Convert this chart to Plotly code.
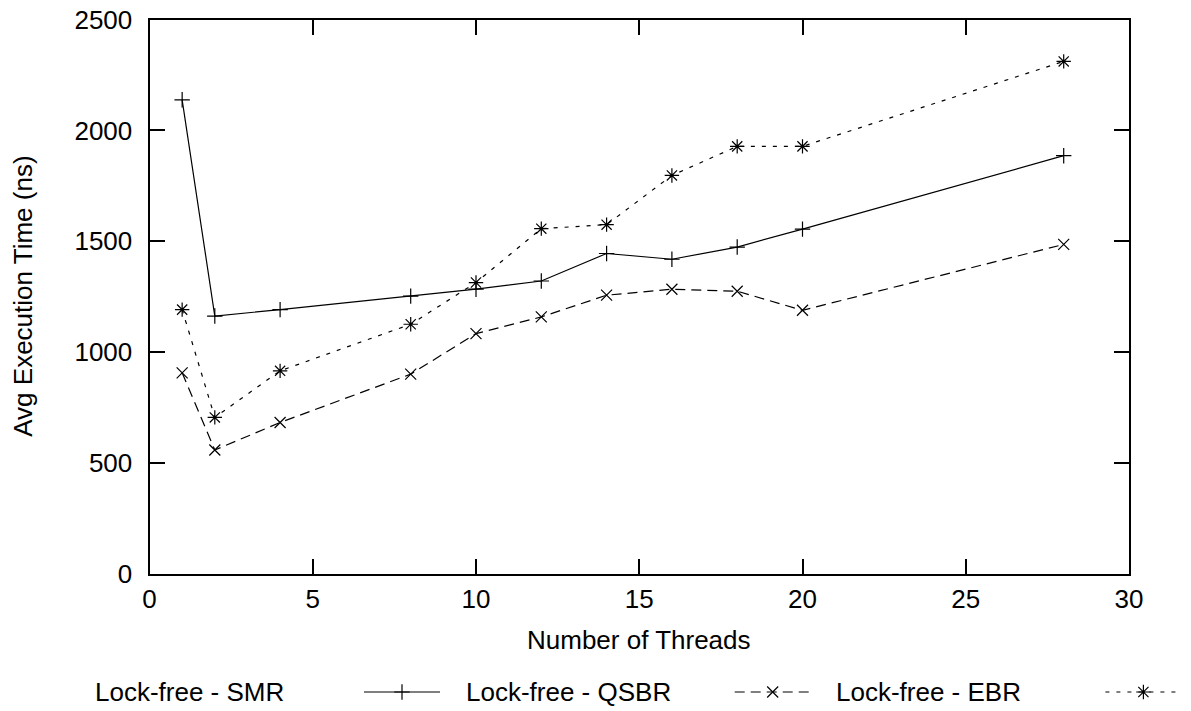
import plotly.graph_objects as go

# ---------------- data ----------------
threads = [1, 2, 4, 8, 10, 12, 14, 16, 18, 20, 28]
smr = [2138, 1163, 1192, 1253, 1284, 1321, 1445, 1419, 1474, 1555, 1886]
qsbr = [907, 559, 683, 901, 1084, 1159, 1257, 1284, 1275, 1189, 1486]
ebr = [1192, 706, 916, 1126, 1314, 1557, 1575, 1797, 1928, 1928, 2311]

series_names = ["Lock-free - SMR", "Lock-free - QSBR", "Lock-free - EBR"]
x_ticks = [0, 5, 10, 15, 20, 25, 30]
y_ticks = [0, 500, 1000, 1500, 2000, 2500]

# ---------------- styles ----------------
W, H = 1191, 711
FONT = "Liberation Sans, Arial, sans-serif"
FS = 26
dashes = ["solid", "10px,6px", "4px,7px"]
symbols = ["cross-thin", "x-thin", "asterisk"]
sizes = [11, 11, 12]
LW = 1.2


def px(x):
    """page x pixel -> paper fraction"""
    return x / W


def py(y):
    """page y pixel (from top) -> paper fraction"""
    return 1 - y / H


# plot area in pixels
PL, PR, PT, PB = 149.5, 1129, 19.5, 574

fig = go.Figure()

for name, ys, dash, sym, sz in zip(series_names, [smr, qsbr, ebr], dashes, symbols, sizes):
    fig.add_trace(go.Scatter(
        x=threads, y=ys, mode="lines+markers", name=name,
        line=dict(color="black", width=LW, dash=dash),
        marker=dict(symbol=sym, size=sz, color="black",
                    line=dict(color="black", width=LW)),
        showlegend=False, xaxis="x", yaxis="y",
    ))

# custom gnuplot-style key: text then sample, on a pixel overlay axis
LEG_Y = 692
LEG_PITCH = 370.7
TEXT_X0 = 93
SAMPLE_X0 = 364
SAMPLE_LEN = 76
annotations = []
for i, (name, dash, sym, sz) in enumerate(zip(series_names, dashes, symbols, sizes)):
    sx0 = SAMPLE_X0 + i * LEG_PITCH
    sx1 = sx0 + SAMPLE_LEN
    fig.add_trace(go.Scatter(
        x=[sx0, sx1], y=[LEG_Y, LEG_Y], mode="lines",
        line=dict(color="black", width=LW, dash=dash),
        showlegend=False, hoverinfo="skip", xaxis="x2", yaxis="y2",
    ))
    fig.add_trace(go.Scatter(
        x=[(sx0 + sx1) / 2], y=[LEG_Y], mode="markers",
        marker=dict(symbol=sym, size=sz, color="black",
                    line=dict(color="black", width=LW)),
        showlegend=False, hoverinfo="skip", xaxis="x2", yaxis="y2",
    ))
    annotations.append(dict(
        text=name, x=px(TEXT_X0 + i * LEG_PITCH), xref="paper", xanchor="left",
        y=py(LEG_Y), yref="paper", yanchor="middle", showarrow=False,
        font=dict(family=FONT, size=FS, color="black"),
    ))

# axis titles
annotations.append(dict(
    text="Number of Threads", x=px((PL + PR) / 2), xref="paper", xanchor="center",
    y=py(640), yref="paper", yanchor="middle", showarrow=False,
    font=dict(family=FONT, size=FS, color="black"),
))
annotations.append(dict(
    text="Avg Execution Time (ns)", x=px(23), xref="paper", xanchor="center",
    y=py((PT + PB) / 2), yref="paper", yanchor="middle", showarrow=False,
    textangle=-90, font=dict(family=FONT, size=FS, color="black"),
))

axis_common = dict(
    showline=True, linecolor="black", linewidth=2, mirror="allticks",
    ticks="inside", ticklen=15, tickwidth=2, tickcolor="black",
    showgrid=False, zeroline=False, automargin=False,
    ticklabeloverflow="allow",
    tickfont=dict(family=FONT, size=FS, color="black"),
)

fig.update_layout(
    width=W, height=H,
    margin=dict(l=0, r=0, t=0, b=0),
    paper_bgcolor="white", plot_bgcolor="rgba(0,0,0,0)",
    showlegend=False,
    hovermode=False,
    font=dict(family=FONT, size=FS, color="black"),
    xaxis=dict(domain=[px(PL), px(PR)], range=[0, 30], tickvals=x_ticks,
               ticklabelstandoff=1, anchor="y", **axis_common),
    yaxis=dict(domain=[py(PB), py(PT)], range=[0, 2500], tickvals=y_ticks,
               ticklabelstandoff=10, anchor="x", **axis_common),
    xaxis2=dict(domain=[0, 1], range=[0, W], visible=False, anchor="y2",
                fixedrange=True),
    yaxis2=dict(domain=[0, 1], range=[H, 0], visible=False, anchor="x2",
                fixedrange=True),
    annotations=annotations,
)

# remove the default 8px page margin so the figure fills the window exactly
fig.write_html(
    "out.html",
    config={"displayModeBar": False, "staticPlot": True},
    post_script="document.body.style.margin='0';document.body.style.overflow='hidden';",
)
